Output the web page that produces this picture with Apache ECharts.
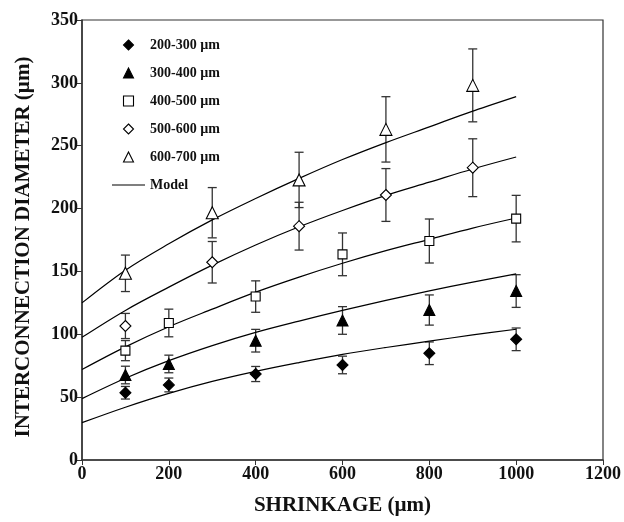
<!DOCTYPE html>
<html>
<head>
<meta charset="utf-8">
<script src="https://cdn.jsdelivr.net/npm/echarts@6/dist/echarts.min.js"></script>
<style>html,body{margin:0;padding:0;background:#fff;}#c{width:624px;height:522px;}</style>
</head>
<body>
<div id="c"></div>
<script>
// ---- data ----
const shrinkA = [100, 200, 400, 600, 800, 1000];
const shrinkB = [100, 300, 500, 700, 900];

const d200_300 = [53.5, 59.7, 68.4, 75.6, 84.9, 96];
const e200_300 = [5, 5.5, 6, 7, 9, 9];
const d300_400 = [67.6, 76.4, 94.9, 111, 119.3, 134.4];
const e300_400 = [7, 7, 9, 11, 12, 13];
const d400_500 = [87, 109, 130, 163.6, 174.2, 192];
const e400_500 = [8, 11, 12.5, 17, 17.5, 18.5];
const d500_600 = [106.6, 157.3, 186, 210.8, 232.5];
const e500_600 = [10, 16.5, 19, 21, 23];
const d600_700 = [148.5, 196.7, 222.8, 263, 298];
const e600_700 = [14.5, 20, 22, 26, 29];

const modelX = [0, 100, 200, 300, 400, 500, 600, 700, 800, 900, 1000];
const m200_300 = [29.7, 42, 53, 62.5, 70.5, 77.5, 84, 89.5, 94.5, 99.5, 104];
const m300_400 = [48.8, 65, 79, 91, 101.5, 110.5, 119, 127, 134.5, 141.5, 148];
const m400_500 = [72, 90, 106, 120, 133.5, 145.5, 156.5, 166.5, 175.5, 184.5, 192.5];
const m500_600 = [97.6, 119, 137.5, 155, 171, 185.5, 198.5, 210.5, 221, 231.5, 241];
const m600_700 = [125, 151, 172, 191, 208, 224, 239, 252.5, 265, 277.5, 289];

const seriesNames = ['200-300 µm', '300-400 µm', '400-500 µm', '500-600 µm', '600-700 µm'];
const modelName = 'Model';
const xTicks = [0, 200, 400, 600, 800, 1000, 1200];
const yTicks = [0, 50, 100, 150, 200, 250, 300, 350];

// ---- build ----
const FONT = '"Liberation Serif", "Times New Roman", serif';
const zip = (xs, ys) => xs.map((x, i) => [x, ys[i]]);
const errs = (xs, ys, es) => xs.map((x, i) => [x, ys[i] - es[i], ys[i] + es[i]]);

const groups = [
  {name: seriesNames[0], xs: shrinkA, ys: d200_300, es: e200_300, symbol: 'diamond', size: 11, fill: '#000'},
  {name: seriesNames[1], xs: shrinkA, ys: d300_400, es: e300_400, symbol: 'triangle', size: 11, fill: '#000'},
  {name: seriesNames[2], xs: shrinkA, ys: d400_500, es: e400_500, symbol: 'rect', size: 9, fill: '#fff'},
  {name: seriesNames[3], xs: shrinkB, ys: d500_600, es: e500_600, symbol: 'diamond', size: 11, fill: '#fff'},
  {name: seriesNames[4], xs: shrinkB, ys: d600_700, es: e600_700, symbol: 'triangle', size: 12, fill: '#fff'}
];
const models = [m200_300, m300_400, m400_500, m500_600, m600_700];

function renderErr(params, api) {
  const x = api.value(0), lo = api.value(1), hi = api.value(2);
  const a = api.coord([x, lo]), b = api.coord([x, hi]);
  const w = 4.5;
  const st = {stroke: '#333', lineWidth: 1.3};
  return {type: 'group', children: [
    {type: 'line', shape: {x1: a[0], y1: a[1], x2: b[0], y2: b[1]}, style: st},
    {type: 'line', shape: {x1: a[0] - w, y1: a[1], x2: a[0] + w, y2: a[1]}, style: st},
    {type: 'line', shape: {x1: b[0] - w, y1: b[1], x2: b[0] + w, y2: b[1]}, style: st}
  ]};
}

const series = [];
models.forEach((m, i) => {
  series.push({
    name: modelName, type: 'line', data: zip(modelX, m), smooth: 0.35,
    symbol: 'none', showSymbol: false, lineStyle: {color: '#000', width: 1.2}, itemStyle: {color: '#000'}, z: 2,
    silent: true
  });
});
groups.forEach((g, i) => {
  series.push({
    name: 'err' + i, type: 'custom', renderItem: renderErr, data: errs(g.xs, g.ys, g.es),
    encode: {x: 0, y: [1, 2]}, z: 1, silent: true
  });
  series.push({
    name: g.name, type: 'scatter', data: zip(g.xs, g.ys), symbol: g.symbol, symbolSize: g.size,
    itemStyle: {color: g.fill, borderColor: '#000', borderWidth: 1.1, opacity: 1}, z: 3
  });
});

// legend icons as paths so they keep their aspect inside the wide icon box
const iconPaths = {
  diamond: 'path://M5,0L10,5L5,10L0,5Z',
  triangle: 'path://M5,0L10,10L0,10Z',
  rect: 'path://M0,0L10,0L10,10L0,10Z'
};
const legendData = groups.map(g => ({
  name: g.name,
  icon: iconPaths[g.symbol],
  itemStyle: {color: g.fill, borderColor: '#000', borderWidth: 1.1}
}));
legendData.push({name: modelName, icon: 'path://M0,0 L33,0 L33,1.2 L0,1.2 Z', itemStyle: {color: '#000', borderWidth: 0}});

const chart = echarts.init(document.getElementById('c'), null, {renderer: 'canvas'});
chart.setOption({
  animation: false,
  backgroundColor: '#fff',
  textStyle: {fontFamily: FONT},
  grid: {left: 82, right: 17, top: 20, bottom: 62, show: true, borderColor: '#333', borderWidth: 1.2},
  legend: {
    orient: 'vertical', left: 112, top: 38, padding: 0, itemWidth: 33, itemHeight: 10, itemGap: 14,
    data: legendData,
    textStyle: {fontFamily: FONT, fontWeight: 'bold', fontSize: 14, color: '#111'},
    selectedMode: false
  },
  xAxis: {
    type: 'value', min: xTicks[0], max: xTicks[xTicks.length - 1], interval: xTicks[1] - xTicks[0],
    name: 'SHRINKAGE (µm)', nameLocation: 'middle', nameGap: 35,
    nameTextStyle: {fontFamily: FONT, fontWeight: 'bold', fontSize: 21, color: '#111'},
    axisLine: {lineStyle: {color: '#333', width: 1.5}},
    axisTick: {inside: false, length: 5, lineStyle: {color: '#333'}},
    axisLabel: {fontFamily: FONT, fontWeight: 'bold', fontSize: 18, color: '#111', margin: 5, formatter: v => String(v)},
    splitLine: {show: false}
  },
  yAxis: {
    type: 'value', min: yTicks[0], max: yTicks[yTicks.length - 1], interval: yTicks[1] - yTicks[0],
    name: 'INTERCONNECTION DIAMETER (µm)', nameLocation: 'middle', nameGap: 48,
    nameTextStyle: {fontFamily: FONT, fontWeight: 'bold', fontSize: 21, color: '#111', padding: [0, 14, 0, 0]},
    axisLine: {lineStyle: {color: '#333', width: 1.5}},
    axisTick: {inside: false, length: 5, lineStyle: {color: '#333'}},
    axisLabel: {fontFamily: FONT, fontWeight: 'bold', fontSize: 18, color: '#111', margin: 4, formatter: v => String(v)},
    splitLine: {show: false}
  },
  series: series
});
</script>
</body>
</html>
